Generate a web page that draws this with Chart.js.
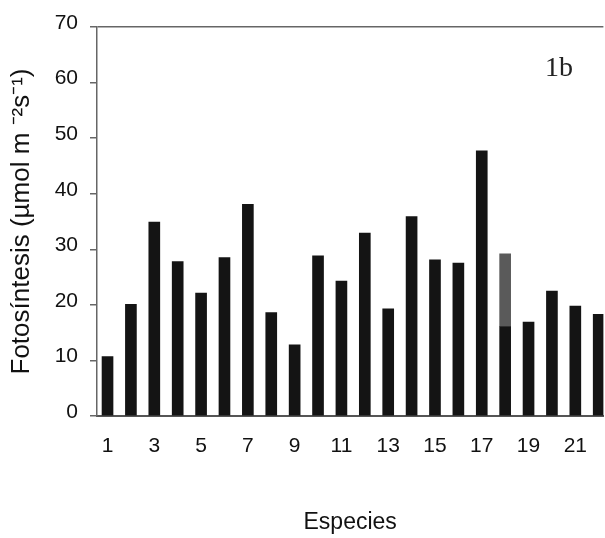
<!DOCTYPE html>
<html lang="es">
<head>
    <meta charset="UTF-8">
    <title>Fotosíntesis por especie</title>
    <script src="https://cdn.jsdelivr.net/npm/chart.js"></script>
    <style>
        html, body { margin: 0; padding: 0; background: #fff; overflow: hidden; }
        #wrap { width: 605px; height: 538px; }
    </style>
</head>
<body>
    <div id="wrap"><canvas id="fotoChart" width="605" height="538"></canvas></div>

    <script>
        // Especies 1..22 (la figura está cortada en la especie 22)
        const species = [1, 2, 3, 4, 5, 6, 7, 8, 9, 10, 11, 12, 13, 14, 15, 16, 17, 18, 19, 20, 21, 22];
        // parte negra de cada barra
        const photoValues = [10.7, 20.1, 34.9, 27.8, 22.1, 28.5, 38.1, 18.6, 12.8, 28.8, 24.3,
                             32.9, 19.3, 35.9, 28.1, 27.5, 47.7, 16.1, 16.9, 22.5, 19.8, 18.3];
        // tramo gris encima (solo especie 18)
        const grayTop = [null, null, null, null, null, null, null, null, null, null, null,
                         null, null, null, null, null, null, 13.1, null, null, null, null];
        const xTicks = [1, 3, 5, 7, 9, 11, 13, 15, 17, 19, 21];
        const yTicks = [0, 10, 20, 30, 40, 50, 60, 70];

        const toPoints = arr => species.map((s, i) => ({ x: s, y: arr[i] }));

        // etiqueta "1b" del panel
        const panelLabel = {
            id: 'panelLabel',
            afterDraw(chart) {
                const ctx = chart.ctx;
                ctx.save();
                ctx.font = '28px "Liberation Serif", serif';
                ctx.fillStyle = '#222';
                ctx.textAlign = 'center';
                ctx.textBaseline = 'middle';
                ctx.fillText('1b', 559, 69);
                ctx.restore();
            }
        };

        const ctx = document.getElementById('fotoChart').getContext('2d');
        new Chart(ctx, {
            type: 'bar',
            data: {
                datasets: [{
                    label: 'Fotosíntesis',
                    data: toPoints(photoValues),
                    backgroundColor: '#141414',
                    barThickness: 11
                }, {
                    label: 'Fotosíntesis (gris)',
                    data: toPoints(grayTop),
                    backgroundColor: '#5a5a5a',
                    barThickness: 11
                }]
            },
            options: {
                responsive: false,
                animation: false,
                layout: { padding: { top: 27, right: 0, left: 0, bottom: 0 } },
                plugins: {
                    legend: { display: false },
                    tooltip: { enabled: false }
                },
                scales: {
                    x: {
                        type: 'linear',
                        stacked: true,
                        offset: false,
                        min: 0.55,
                        max: 22.2,
                        afterBuildTicks: scale => { scale.ticks = xTicks.map(v => ({ value: v })); },
                        afterFit: scale => { scale.height = 122; },
                        grid: { display: false, drawTicks: false },
                        border: { color: '#555', width: 2 },
                        ticks: {
                            padding: 18,
                            color: '#111',
                            font: { family: '"Liberation Sans", Arial, sans-serif', size: 21 }
                        },
                        title: {
                            display: true,
                            text: 'Especies',
                            color: '#111',
                            padding: { top: 0, bottom: 2 },
                            font: { family: '"Liberation Sans", Arial, sans-serif', size: 23 }
                        }
                    },
                    y: {
                        stacked: true,
                        min: 0,
                        max: 70,
                        afterBuildTicks: scale => { scale.ticks = yTicks.map(v => ({ value: v })); },
                        afterFit: scale => { scale.width = 97; },
                        grid: {
                            color: c => c.tick && c.tick.value === 70 ? '#666' : 'rgba(0,0,0,0)',
                            tickColor: '#666',
                            tickLength: 7,
                            lineWidth: 1.5
                        },
                        border: { color: '#666', width: 1.5 },
                        ticks: {
                            padding: 12,
                            labelOffset: -4,
                            color: '#111',
                            font: { family: '"Liberation Sans", Arial, sans-serif', size: 21 }
                        },
                        title: {
                            display: true,
                            text: 'Fotosíntesis (µmol m ⁻²s⁻¹)',
                            color: '#111',
                            padding: { top: 6, bottom: 0 },
                            font: { family: '"Liberation Sans", Arial, sans-serif', size: 26 }
                        }
                    }
                }
            },
            plugins: [panelLabel]
        });
    </script>
</body>
</html>
